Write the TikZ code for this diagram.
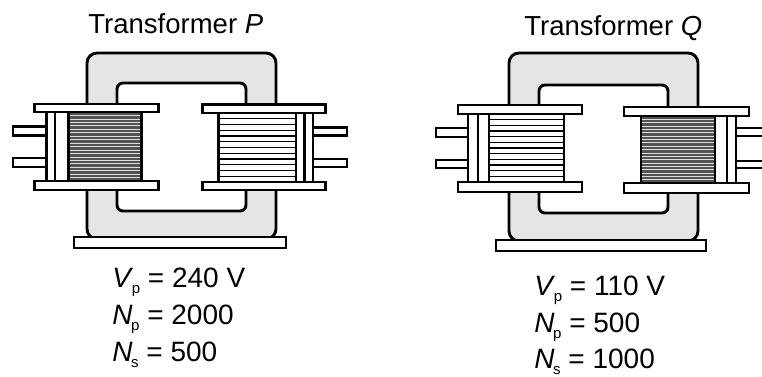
\documentclass[tikz,border=0pt]{standalone}
\usepackage{fontspec}
\setmainfont{Liberation Sans}
\newcommand\lightlines[4]{% x1 x2 y1 y2
  \fill[white] (#1,#3) rectangle (#2,#4);
  \foreach \k in {1,...,11} {\draw[line width=1.4pt] (#1,{#3+\k*(#4-#3)/12}) -- (#2,{#3+\k*(#4-#3)/12});}
  \draw (#1,#3) rectangle (#2,#4);}
\newcommand\darklines[4]{%
  \fill[black!68] (#1,#3) rectangle (#2,#4);
  \foreach \k in {1,...,19} {\draw[white!75!gray, line width=0.7pt] (#1,{#3+\k*(#4-#3)/20}) -- (#2,{#3+\k*(#4-#3)/20});}
  \draw (#1,#3) rectangle (#2,#4);}
\begin{document}
\begin{tikzpicture}[x=1pt,y=-1pt,line width=2.9pt,line join=miter,
  corefill/.style={fill=black!10},
  part/.style={draw=black,fill=white},
  title/.style={anchor=base west,inner sep=0pt,font=\fontsize{27.5}{29}\selectfont},
  val/.style={anchor=base west,inner sep=0pt,font=\fontsize{28}{30}\selectfont}]
\useasboundingbox (0,0) rectangle (762,376);
% ---------- Transformer P ----------
\fill[corefill,rounded corners=10] (87,53) rectangle (276,239);
\fill[white,rounded corners=6] (117,83) rectangle (246,211);
\draw[rounded corners=10] (87,53) rectangle (276,239);
\draw[rounded corners=6] (117,83) rectangle (246,211);
\draw[part] (74,237) rectangle (286,248);
% left coil (primary, dense)
\draw[part] (13,126.5) rectangle (47,135.5);
\draw[part] (13,158) rectangle (47,167);
\draw[part] (46.5,112) rectangle (55,181);
\draw[part] (55,112) rectangle (68.5,181);
\darklines{68.5}{141.5}{112}{181}
\draw[part] (34.5,104) rectangle (158.5,112);
\draw[part] (34.5,181) rectangle (158.5,190);
% right coil (secondary, sparse)
\draw[part] (313,127.5) rectangle (347,135.5);
\draw[part] (313,159) rectangle (347,167);
\draw[part] (304.5,113) rectangle (313,182);
\draw[part] (296,113) rectangle (304.5,182);
\lightlines{218.5}{296}{113}{182}
\draw[part] (202.5,104.5) rectangle (325.5,113);
\draw[part] (202.5,182) rectangle (325.5,190);
% ---------- Transformer Q ----------
\fill[corefill,rounded corners=10] (509,53) rectangle (698,241);
\fill[white,rounded corners=6] (539,85) rectangle (668,213);
\draw[rounded corners=10] (509,53) rectangle (698,241);
\draw[rounded corners=6] (539,85) rectangle (668,213);
\draw[part] (496,240) rectangle (706,251);
% left coil (primary, sparse)
\draw[part] (436,128) rectangle (469,137);
\draw[part] (436,160) rectangle (469,168);
\draw[part] (468,114) rectangle (478,182);
\draw[part] (478,114) rectangle (489,182);
\lightlines{489}{564}{114}{182}
\draw[part] (458,105) rectangle (582,114);
\draw[part] (458,182) rectangle (582,192);
% right coil (secondary, dense)
\draw[part] (736,128) rectangle (775,136);
\draw[part] (736,161) rectangle (775,168);
\draw[part] (727,116) rectangle (736,183);
\draw[part] (715,116) rectangle (727,183);
\darklines{641}{715}{116}{183}
\draw[part] (624,107) rectangle (749,116);
\draw[part] (624,183) rectangle (749,193);
% ---------- texts ----------
\node[title] (tP) at (87,33) {Transformer \textit{P}};
\node[title] (tQ) at (523,35) {Transformer \textit{Q}};
\newcommand\sbs[1]{\kern-1.5pt\raisebox{-6pt}{\fontsize{15}{15}\selectfont #1}}
\node[val] (p1) at (111,287) {\textit{V}\sbs{p} = 240 V};
\node[val] (p2) at (111,324) {\textit{N}\sbs{p} = 2000};
\node[val] (p3) at (111,361) {\textit{N}\sbs{s} = 500};
\node[val] (q1) at (533,295) {\textit{V}\sbs{p} = 110 V};
\node[val] (q2) at (533,332) {\textit{N}\sbs{p} = 500};
\node[val] (q3) at (533,368) {\textit{N}\sbs{s} = 1000};
\end{tikzpicture}
\end{document}
